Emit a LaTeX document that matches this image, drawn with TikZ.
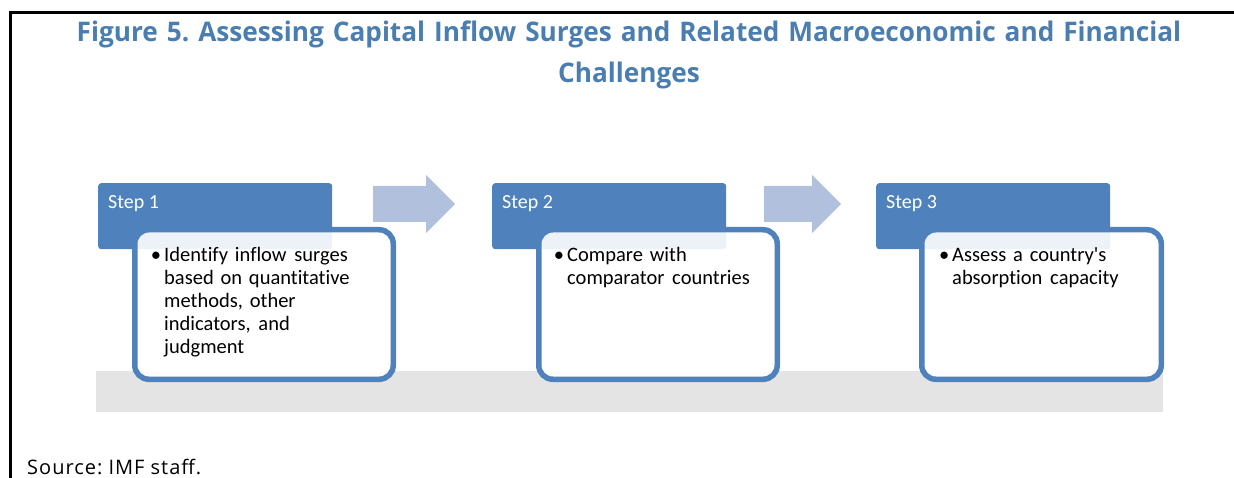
\documentclass[tikz,border=0pt]{standalone}
\usepackage{fontspec}
\setmainfont[Ligatures={NoCommon}]{Carlito}
\newfontfamily\titlefont[FakeStretch=0.97]{Open Sans}
\newfontfamily\sourcefont[LetterSpace=5]{Open Sans}
\usepackage{tikz}
\usetikzlibrary{positioning}

\definecolor{stepblue}{RGB}{79,129,189}
\definecolor{arrowblue}{RGB}{177,193,221}
\definecolor{titleblue}{RGB}{74,126,176}
\definecolor{bargray}{RGB}{228,228,228}

\newcommand{\widesp}{\hspace{0.38em}}
\frenchspacing
\begin{document}
\begin{tikzpicture}
                    [
                    x=1pt, y=-1pt,
                    stepbox/.style={rectangle, rounded corners=3pt, fill=stepblue, minimum width=234pt, minimum height=66pt, inner sep=0pt, anchor=north west},
                    detailbox/.style={rectangle, rounded corners=14pt, draw=stepblue, line width=5.5pt, fill=white, fill opacity=0.9, minimum height=149.5pt, inner sep=0pt, anchor=north west},
                    steplabel/.style={text=white, font=\fontsize{20}{23}\selectfont, inner sep=0pt, anchor=base west},
                    bodytext/.style={text width=240pt, align=left, font=\fontsize{20.5}{23}\selectfont, inner sep=0pt, anchor=base west},
                    blockarrow/.style={fill=arrowblue},
                    ]
                    \useasboundingbox (0,0) rectangle (1234,478);
                    % % 外框
                    \draw[line width=3pt] (10.5,478) -- (10.5,12.5) -- (1234,12.5);
                    %
                    \node[text=titleblue, font=\titlefont\bfseries\fontsize{27}{41}\selectfont, text width=1200pt, align=center, inner sep=0pt, anchor=base] (title) at (629,42) {Figure 5. Assessing Capital Inflow Surges and Related Macroeconomic and Financial\\Challenges};
                    \node[font=\sourcefont\fontsize{20}{23}\selectfont, inner sep=0pt, anchor=base west] (source) at (27,474) {Source: IMF staff.};

                    \fill[bargray] (96,371) rectangle (1163,412);

                    \node[stepbox] (step1) at (98,183) {};
                    \node[stepbox] (step2) at (492,183) {};
                    \node[stepbox] (step3) at (876,183) {};

                    \node[detailbox, minimum width=258.5pt] (detail1) at (132,227) {};
                    \node[detailbox, minimum width=238.5pt] (detail2) at (536,227) {};
                    \node[detailbox, minimum width=239.5pt] (detail3) at (919,227) {};
                    %
                    \node[steplabel] (label1) at ([xshift=10pt, yshift=-26pt]step1.north west) {Step 1};
                    \node[steplabel] (label2) at ([xshift=10pt, yshift=-26pt]step2.north west) {Step 2};
                    \node[steplabel] (label3) at ([xshift=10pt, yshift=-26pt]step3.north west) {Step 3};

                    \node[bodytext] (text1) at ([xshift=32pt, yshift=-35pt]detail1.north west) {\llap{\textbullet\hspace{3pt}}Identify inflow\widesp surges\\based on quantitative\\methods, other\\indicators,\widesp and\\judgment};
                    \node[bodytext] (text2) at ([xshift=31pt, yshift=-35pt]detail2.north west) {\llap{\textbullet\hspace{3pt}}Compare with\\comparator\widesp countries};
                    \node[bodytext] (text3) at ([xshift=33pt, yshift=-35pt]detail3.north west) {\llap{\textbullet\hspace{3pt}}Assess a country\textquotesingle s\\absorption\widesp capacity};
                    %
                    \coordinate (arrow1) at (373,204);
                    \coordinate (arrow2) at (764,204);
                    \fill[blockarrow] (arrow1) ++(0,-18) -- ++(53,0) -- ++(0,-11) -- ++(29,29) -- ++(-29,29) -- ++(0,-11) -- ++(-53,0) -- cycle;
                    \fill[blockarrow] (arrow2) ++(0,-18) -- ++(48,0) -- ++(0,-11) -- ++(29,29) -- ++(-29,29) -- ++(0,-11) -- ++(-48,0) -- cycle;
                \end{tikzpicture}
\end{document}
